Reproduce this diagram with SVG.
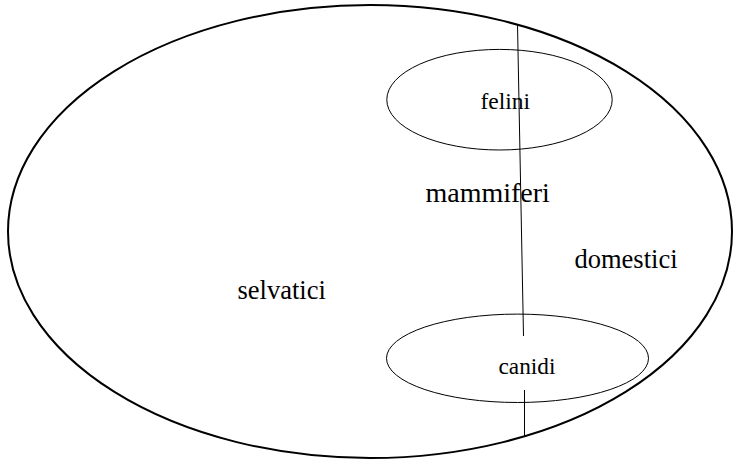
<svg xmlns="http://www.w3.org/2000/svg" width="734" height="460" viewBox="0 0 734 460">
<style>
.big{fill:none;stroke:#000;stroke-width:2}
.sub{fill:none;stroke:#000;stroke-width:1}
.ln{stroke:#000;stroke-width:1;fill:none}
text{font-family:"Liberation Serif","Times New Roman",serif;fill:#000}
</style>
<rect width="734" height="460" fill="#fff"/>
<g id="mammiferi">
<ellipse class="big" cx="370" cy="231.5" rx="362" ry="226.5"/>
<text x="425.5" y="202" font-size="28">mammiferi</text>
</g>
<g id="felini">
<ellipse class="sub" cx="499.5" cy="99.7" rx="112.7" ry="50.3"/>
<text x="480.5" y="109" font-size="23.5">felini</text>
</g>
<g id="canidi">
<ellipse class="sub" cx="517.5" cy="358.3" rx="131" ry="44.2"/>
<text x="498.5" y="374" font-size="23.3">canidi</text>
</g>
<g id="selvatici">
<text x="237.5" y="299" font-size="26.5">selvatici</text>
</g>
<g id="domestici">
<text x="574.5" y="267.5" font-size="26.5">domestici</text>
</g>
<g id="connectors">
<line class="ln" x1="517.5" y1="24.5" x2="523.5" y2="336"/>
<line class="ln" x1="524.5" y1="390" x2="524.5" y2="437"/>
</g>
</svg>
